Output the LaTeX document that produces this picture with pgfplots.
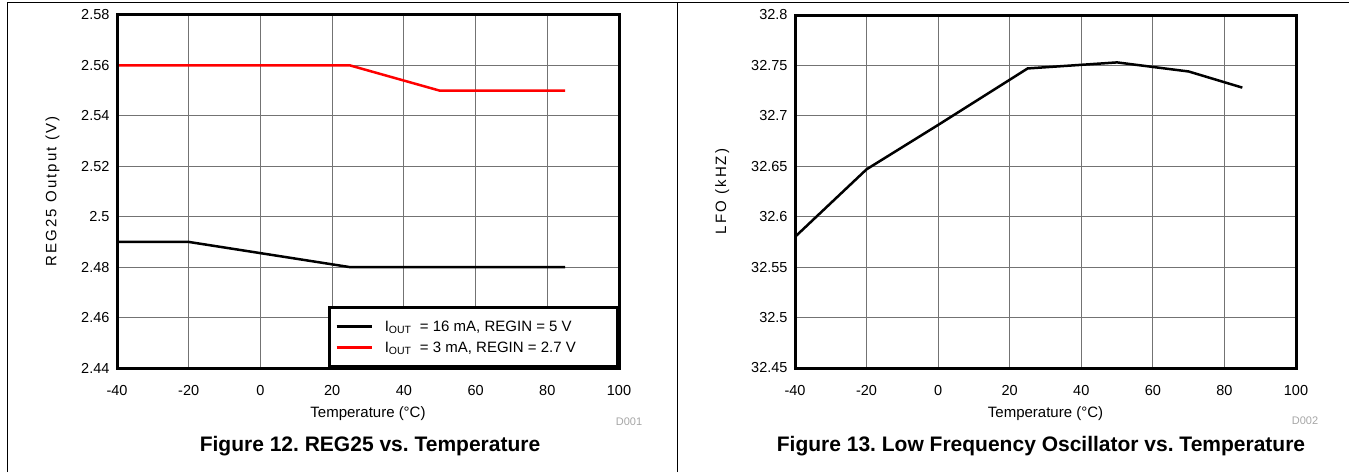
\documentclass[border=0pt]{standalone}
\usepackage{fontspec}
\setmainfont{Liberation Sans}
\newfontfamily\spaced[LetterSpace=14]{Liberation Sans}
\usepackage{pgfplots}
\pgfplotsset{compat=1.18}
\frenchspacing

\tikzset{axframe/.style={line width=3pt}}
\pgfplotsset{
  tistyle/.style={
    scale only axis,
    height=353pt,
    xmin=-40, xmax=100,
    xtick={-40,-20,0,20,40,60,80,100},
    grid=major,
    major grid style={draw=black!55, line width=0.9pt},
    major tick length=0pt,
    /pgf/number format/assume math mode=true,
    tick label style={font=\fontsize{14.5}{16}\selectfont},
    xticklabel style={yshift=-14pt},
    yticklabel style={xshift=-4pt, /pgf/number format/fixed, /pgf/number format/precision=2},
    xlabel={Temperature (°C)},
    xlabel style={font=\fontsize{15}{17}\selectfont, yshift=-4pt},
    ylabel style={font=\fontsize{15}{17}\selectfont\spaced, yshift=15pt},
    clip=false,
  },
}

\begin{document}
\begin{tikzpicture}
\useasboundingbox (0,0) rectangle (1349pt,472pt);
% panel frames
\draw[line width=1pt] (7pt,0) -- (7pt,469pt) -- (1349pt,469pt);
\draw[line width=1pt] (677pt,0) -- (677pt,469pt);

% ---- Figure 12
\begin{axis}[tistyle,
    at={(117pt,104pt)}, anchor=south west, width=502pt,
    ymin=2.44, ymax=2.58,
    ytick={2.44,2.46,2.48,2.5,2.52,2.54,2.56,2.58},
    ylabel={REG25 Output (V)},
    legend style={at={(1,0)}, anchor=south east, draw=black, line width=2.6pt,
        fill=white, font=\fontsize{15}{17}\selectfont,
        inner xsep=6pt, inner ysep=11pt, row sep=5pt, column sep=10pt},
    legend cell align=left,
    legend image code/.code={\draw[#1] (0pt,0pt) -- (35pt,0pt);},
  ]
  \addplot[black, line width=2.5pt] coordinates {(-40,2.49) (-20,2.49) (25,2.48) (85,2.48)};
  \addlegendentry{I\textsubscript{OUT}\ \ = 16 mA, REGIN = 5 V\hspace*{38pt}}
  \addplot[red, line width=2.5pt] coordinates {(-40,2.56) (25,2.56) (50,2.55) (85,2.55)};
  \addlegendentry{I\textsubscript{OUT}\ \ = 3 mA, REGIN = 2.7 V}
  \draw[axframe] (rel axis cs:0,0) rectangle (rel axis cs:1,1);
\end{axis}

% ---- Figure 13
\begin{axis}[tistyle,
    at={(795pt,104pt)}, anchor=south west, width=501pt,
    ymin=32.45, ymax=32.8,
    ytick={32.45,32.5,32.55,32.6,32.65,32.7,32.75,32.8},
    ylabel={LFO (kHZ)},
  ]
  \addplot[black, line width=2.5pt] coordinates {(-40,32.580) (-20,32.647) (0,32.691) (25,32.747) (50,32.753) (70,32.744) (85,32.728)};
  \draw[axframe] (rel axis cs:0,0) rectangle (rel axis cs:1,1);
\end{axis}

\node[text=black!35, font=\fontsize{11}{12}\selectfont] at (629pt,50pt) {D001};
\node[text=black!35, font=\fontsize{11}{12}\selectfont] at (1305pt,51pt) {D002};
\node[font=\bfseries\fontsize{21}{24}\selectfont] at (370pt,26pt) {Figure 12. REG25 vs. Temperature};
\node[font=\bfseries\fontsize{21}{24}\selectfont] at (1041pt,26pt) {Figure 13. Low Frequency Oscillator vs. Temperature};
\end{tikzpicture}
\end{document}
